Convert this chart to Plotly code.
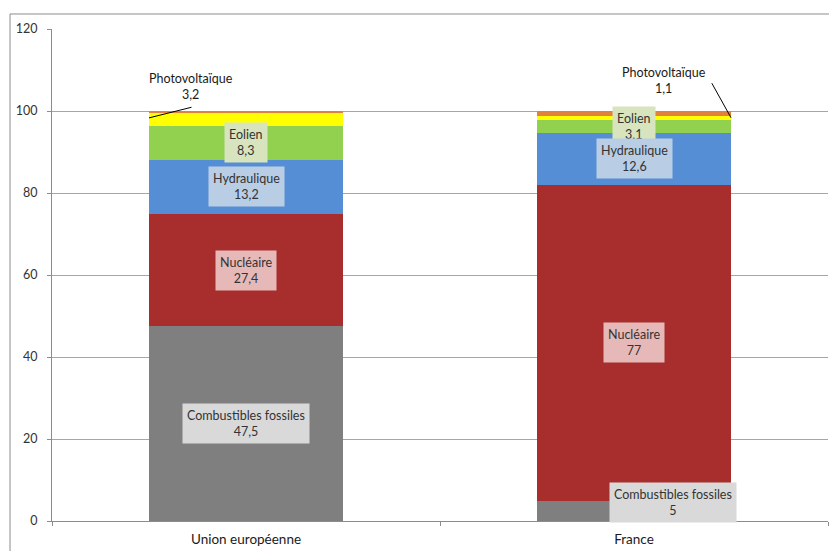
import plotly.graph_objects as go

categories = ["Union européenne", "France"]
series_names = ["Combustibles fossiles", "Nucléaire", "Hydraulique", "Eolien", "Photovoltaïque", "Autres"]
fossiles = [47.5, 5]
nucleaire = [27.4, 77]
hydraulique = [13.2, 12.6]
eolien = [8.3, 3.1]
photovoltaique = [3.2, 1.1]
autres = [0.4, 1.2]
y_ticks = [0, 20, 40, 60, 80, 100, 120]

series_values = [fossiles, nucleaire, hydraulique, eolien, photovoltaique, autres]
colors = ["#7f7f7f", "#a72e2c", "#558ed5", "#92d050", "#ffff00", "#e0823d"]
label_bg = ["#d9d9d9", "#e6b9b8", "#b9cde5", "#d7e4bd", None, None]

FONT = "Lato, 'Open Sans', sans-serif"
TXT = "#333333"

fig = go.Figure()
for name, vals, col in zip(series_names, series_values, colors):
    fig.add_trace(go.Bar(x=categories, y=vals, name=name, marker=dict(color=col, line=dict(width=0)),
                         hoverinfo="name+y"))


def fmt(v):
    s = ("%g" % v).replace(".", ",")
    return s


annotations = []
# centred labels for first four series (upper series first so lower labels sit on top)
for si in reversed(range(4)):
    for ci in range(len(categories)):
        base = sum(series_values[k][ci] for k in range(si))
        v = series_values[si][ci]
        xshift, yshift = 0, 0
        if si == 0 and ci == 1:
            xshift, yshift = 39, 8
        annotations.append(dict(
            x=ci, y=base + v / 2, xref="x", yref="y",
            text=f"{series_names[si]}<br>{fmt(v)}", showarrow=False,
            bgcolor=label_bg[si], borderpad=4, xshift=xshift, yshift=yshift,
            font=dict(family=FONT, size=12.5, color=TXT)))

# photovoltaic labels with leader lines
pv_layout = [
    dict(tip_dx=-0.25, text_off=(42, -31), line_off=(44, -11)),
    dict(tip_dx=0.25, text_off=(-67, -37), line_off=(-20, -36)),
]
for ci in range(len(categories)):
    base = sum(series_values[k][ci] for k in range(4))
    v = photovoltaique[ci]
    tip_y = base + v * 0.6
    tip_x = ci + pv_layout[ci]["tip_dx"]
    lx, ly = pv_layout[ci]["line_off"]
    tx, ty = pv_layout[ci]["text_off"]
    annotations.append(dict(
        x=tip_x, y=tip_y, xref="x", yref="y", text="", showarrow=True,
        arrowhead=0, arrowwidth=1, arrowcolor="#000000", ax=lx, ay=ly, standoff=0, startstandoff=0))
    annotations.append(dict(
        x=tip_x, y=tip_y, xref="x", yref="y", text=f"Photovoltaïque<br>{fmt(v)}",
        showarrow=False, xshift=tx, yshift=-ty,
        font=dict(family=FONT, size=12.5, color="#1a1a1a")))

fig.update_layout(
    width=829, height=551,
    margin=dict(l=52, r=1, t=29, b=30),
    paper_bgcolor="white", plot_bgcolor="white",
    barmode="stack", bargap=0.5,
    showlegend=False,
    font=dict(family=FONT, color=TXT),
    annotations=annotations,
    shapes=[dict(type="rect", xref="paper", yref="paper", x0=-0.0541, x1=1.02, y0=-0.2, y1=1.0305,
                 line=dict(color="#8c8c8c", width=1), fillcolor="rgba(0,0,0,0)", layer="below")],
)
fig.update_xaxes(type="category", tickson="boundaries", ticks="outside", ticklen=4, tickcolor="#8c8c8c",
                 showline=True, linecolor="#8c8c8c", linewidth=1, showgrid=False,
                 ticklabelstandoff=6,
                 range=[-0.5, 1.5], tickfont=dict(family=FONT, size=13.5, color="#1a1a1a"))
fig.update_yaxes(range=[0, 120], tickvals=y_ticks, ticks="outside", ticklen=4, tickcolor="#8c8c8c",
                 showline=True, linecolor="#8c8c8c", linewidth=1,
                 showgrid=True, gridcolor="#a6a6a6", gridwidth=1, zeroline=False,
                 ticklabelstandoff=7,
                 tickfont=dict(family=FONT, size=12.5, color="#333333"))

fig.write_html("out.html")
